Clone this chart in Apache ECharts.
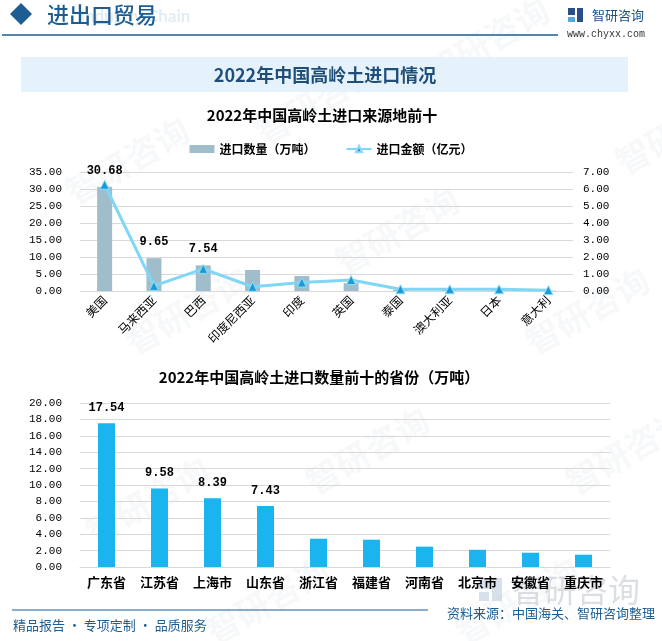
<!DOCTYPE html>
<html><head><meta charset="utf-8">
<script src="https://cdn.jsdelivr.net/npm/echarts@6/dist/echarts.min.js"></script>
<style>html,body{margin:0;padding:0;background:#fff}#c{width:662px;height:641px}</style>
</head><body><div id="c"></div>
<script>
const topCategories = ['美国','马来西亚','巴西','印度尼西亚','印度','英国','泰国','澳大利亚','日本','意大利'];
const importVolume = [30.68, 9.65, 7.54, 6.2, 4.4, 2.3, 0.3, 0.2, 0.2, 0.1];
const importValue = [6.25, 0.3, 1.3, 0.25, 0.5, 0.65, 0.1, 0.1, 0.1, 0.05];
const provinces = ['广东省','江苏省','上海市','山东省','浙江省','福建省','河南省','北京市','安徽省','重庆市'];
const provinceVolume = [17.54, 9.58, 8.39, 7.43, 3.45, 3.33, 2.48, 2.1, 1.74, 1.5];
const topLabelCount = 3;
const bottomLabelCount = 4;

const cjk = '"Noto Sans CJK SC", "Noto Sans", sans-serif';
const mono = '"Liberation Mono", "DejaVu Sans Mono", monospace';
const navy = '#1d5d92';

const chart = echarts.init(document.getElementById('c'), null, {renderer: 'canvas'});

const wm = [];
[[60,180],[250,120],[420,60],[610,150],[120,330],[330,250],[520,330],[80,520],[300,470],[560,470],[200,620],[450,620]].forEach(p => {
  wm.push({type:'text', x:p[0], y:p[1], rotation: Math.PI/6, z:-10, silent:true,
    style:{text:'智研咨询', fill:'rgba(160,180,200,0.09)', font:'bold 34px ' + cjk}});
});

const option = {
  animation: false,
  backgroundColor: '#fff',
  graphic: wm.concat([
    {type:'polygon', shape:{points:[[21,3],[32,14],[21,25],[10,14]]}, style:{fill:navy}},
    {type:'text', x:80, y:17, style:{text:'Industry Chain', fill:'rgba(170,200,225,0.35)', font:'bold 17px Lato, sans-serif', textVerticalAlign:'middle'}},
    {type:'text', x:47, y:15, style:{text:'进出口贸易', fill:navy, font:'500 22px ' + cjk, textVerticalAlign:'middle'}},
    {type:'line', shape:{x1:2, y1:35, x2:558, y2:35}, style:{stroke:navy, lineWidth:1.5}},
    {type:'rect', shape:{x:568, y:8, width:7, height:7}, style:{fill:'#2a4e86'}},
    {type:'rect', shape:{x:568, y:17, width:7, height:5}, style:{fill:'#5aa6dc'}},
    {type:'rect', shape:{x:577, y:8, width:6, height:14}, style:{fill:'#2a4e86'}},
    {type:'text', x:592, y:15, style:{text:'智研咨询', fill:'#1d4f86', font:'13px ' + cjk, textVerticalAlign:'middle'}},
    {type:'text', x:567, y:34, style:{text:'www.chyxx.com', fill:'#333', font:'10px "Liberation Mono", monospace', textVerticalAlign:'middle'}},
    {type:'rect', shape:{x:21, y:57, width:607, height:35}, style:{fill:'#e5f2fb'}},
    {type:'text', x:325, y:75, style:{text:'2022年中国高岭土进口情况', fill:'#1f4e79', font:'bold 18px ' + cjk, textAlign:'center', textVerticalAlign:'middle'}},
    {type:'text', x:322, y:115, style:{text:'2022年中国高岭土进口来源地前十', fill:'#000', font:'bold 15px ' + cjk, textAlign:'center', textVerticalAlign:'middle'}},
    {type:'text', x:319, y:377, style:{text:'2022年中国高岭土进口数量前十的省份（万吨）', fill:'#000', font:'bold 15px ' + cjk, textAlign:'center', textVerticalAlign:'middle'}},
    {type:'rect', shape:{x:479, y:578, width:10, height:11}, z:-5, style:{fill:'rgba(190,205,222,0.6)'}},
    {type:'rect', shape:{x:479, y:592, width:10, height:9}, z:-5, style:{fill:'rgba(190,205,222,0.6)'}},
    {type:'rect', shape:{x:492, y:578, width:10, height:23}, z:-5, style:{fill:'rgba(190,205,222,0.6)'}},
    {type:'text', x:512, y:590, z:-5, style:{text:'智研咨询', fill:'rgba(195,200,208,0.6)', font:'32px ' + cjk, textVerticalAlign:'middle'}},
    {type:'line', shape:{x1:12, y1:610, x2:428, y2:610}, style:{stroke:navy, lineWidth:1.2}},
    {type:'text', x:13, y:625, style:{text:'精品报告 · 专项定制 · 品质服务', fill:navy, font:'13px ' + cjk, textVerticalAlign:'middle'}},
    {type:'text', x:655, y:613, style:{text:'资料来源：中国海关、智研咨询整理', fill:navy, font:'13px ' + cjk, textAlign:'right', textVerticalAlign:'middle'}}
  ]),
  legend: {
    top: 138, left: 'center', itemGap: 30, itemWidth: 25, itemHeight: 8,
    textStyle: {fontFamily: cjk, fontSize: 12, fontWeight: 'bold', color: '#000'},
    data: [{name: '进口数量（万吨）', icon: 'rect'}, {name: '进口金额（亿元）'}]
  },
  grid: [
    {left: 80, right: 89, top: 172, bottom: 350, containLabel: false, outerBoundsMode: 'none'},
    {left: 80, right: 52, top: 403, bottom: 74, containLabel: false, outerBoundsMode: 'none'}
  ],
  xAxis: [
    {gridIndex: 0, type: 'category', data: topCategories,
     axisTick: {show: false}, axisLine: {lineStyle: {color: '#d9d9d9'}},
     axisLabel: {rotate: 45, interval: 0, margin: 7, fontSize: 12, color: '#000', fontFamily: cjk}},
    {gridIndex: 1, type: 'category', data: provinces,
     axisTick: {show: false}, axisLine: {lineStyle: {color: '#d9d9d9'}},
     axisLabel: {interval: 0, margin: 9, fontSize: 13, fontWeight: 'bold', color: '#000', fontFamily: cjk}}
  ],
  yAxis: [
    {gridIndex: 0, type: 'value', min: 0, max: 35, interval: 5,
     axisLine: {show: false}, axisTick: {show: false},
     splitLine: {lineStyle: {color: '#d9d9d9'}},
     axisLabel: {formatter: v => v.toFixed(2), margin: 18, fontSize: 11, color: '#000', fontFamily: mono}},
    {gridIndex: 0, type: 'value', position: 'right', min: 0, max: 7, interval: 1,
     axisLine: {show: false}, axisTick: {show: false}, splitLine: {show: false},
     axisLabel: {formatter: v => v.toFixed(2), margin: 10, fontSize: 11, color: '#000', fontFamily: mono}},
    {gridIndex: 1, type: 'value', min: 0, max: 20, interval: 2,
     axisLine: {show: false}, axisTick: {show: false},
     splitLine: {lineStyle: {color: '#d9d9d9'}},
     axisLabel: {formatter: v => v.toFixed(2), margin: 18, fontSize: 11, color: '#000', fontFamily: mono}}
  ],
  series: [
    {name: '进口数量（万吨）', type: 'bar', xAxisIndex: 0, yAxisIndex: 0, barWidth: 15,
     itemStyle: {color: '#a0bdcb'},
     data: importVolume.map((v, i) => ({value: v, label: {show: i < topLabelCount}})),
     label: {position: 'top', distance: 10, fontFamily: mono, fontWeight: 'bold', fontSize: 12, color: '#000', formatter: p => p.value.toFixed(2)}},
    {name: '进口金额（亿元）', type: 'line', xAxisIndex: 0, yAxisIndex: 1,
     data: importValue, symbol: 'triangle', symbolSize: 9, showAllSymbol: true,
     lineStyle: {color: '#7fd6f5', width: 3}, itemStyle: {color: '#1a9ad6', borderColor: '#8fdcf7', borderWidth: 1}},
    {name: '省份进口数量', type: 'bar', xAxisIndex: 1, yAxisIndex: 2, barWidth: 17,
     itemStyle: {color: '#1ab4ef'},
     data: provinceVolume.map((v, i) => ({value: v, label: {show: i < bottomLabelCount}})),
     label: {position: 'top', distance: 9, fontFamily: mono, fontWeight: 'bold', fontSize: 12, color: '#000', formatter: p => p.value.toFixed(2)}}
  ]
};
chart.setOption(option);
</script></body></html>
